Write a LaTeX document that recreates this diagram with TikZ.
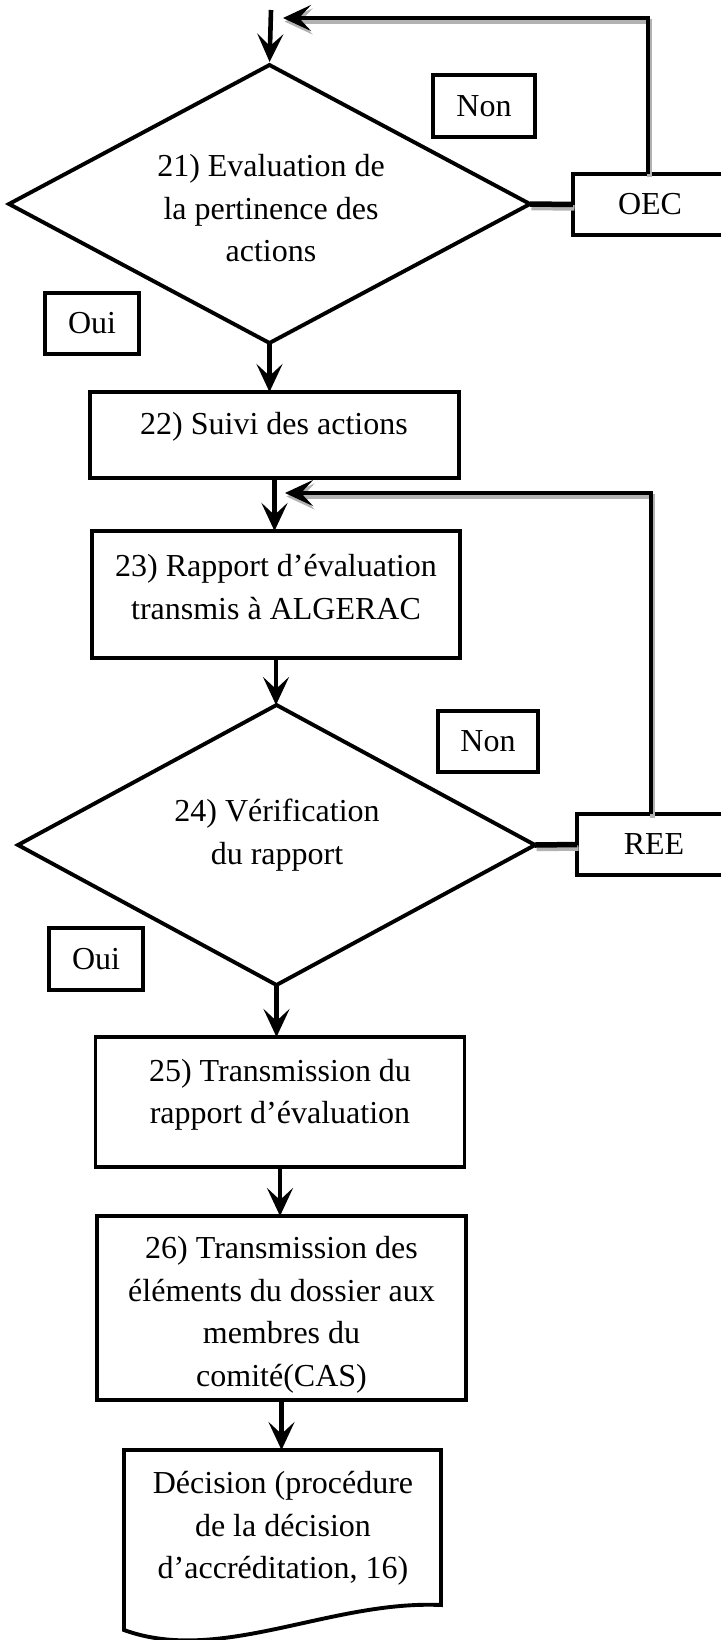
\documentclass[tikz,border=0pt]{standalone}
\usepackage{fontspec}
\setmainfont{Liberation Serif}
\usetikzlibrary{arrows.meta,shapes.geometric}
\begin{document}
\begin{tikzpicture}[x=1pt,y=-1pt,
  txt/.style={inner sep=0pt, align=center, font=\fontsize{32}{42.5}\selectfont},
  boxline/.style={draw, line width=3.9pt, inner sep=0pt, outer sep=0pt, font=\fontsize{32}{42.5}\selectfont},
  smallbox/.style={boxline, line width=3.4pt},
  dia/.style={draw, diamond, line width=3.9pt, inner sep=0pt, outer sep=0pt},
  arr/.style={line width=4.6pt, -{Stealth[length=28pt,width=26pt,inset=12pt]}},
  link/.style={line width=5.5pt},
  shad/.style={draw=gray!60, transform canvas={shift={(1.5pt,-3.5pt)}}}
]
\useasboundingbox (0,0) rectangle (720,1640);

% decision 21
\node[dia, minimum width=521pt, minimum height=278pt] (d1) at (269.5,204) {};
\node[txt] (t21) at (271,208.5) {21) Evaluation de\\la pertinence des\\actions};
\node[smallbox, minimum width=102pt, minimum height=62pt] (non1) at (484,106) {Non};
\node[smallbox, minimum width=154pt, minimum height=61pt] (oec) at (650,204.5) {OEC};
\node[smallbox, minimum width=94pt, minimum height=61pt] (oui1) at (92,323.5) {Oui};

% box 22
\node[boxline, minimum width=369pt, minimum height=86pt] (b22) at (274.5,435) {};
\node[txt] (t22) at (274,426.5) {22) Suivi des actions};

% box 23
\node[boxline, minimum width=368pt, minimum height=127pt] (b23) at (276,594.5) {};
\node[txt] (t23) at (276,587) {23) Rapport d’évaluation\\transmis à ALGERAC};

% decision 24
\node[dia, minimum width=517pt, minimum height=280pt] (d2) at (276.5,845) {};
\node[txt] (t24) at (277,835) {24) Vérification\\du rapport};
\node[smallbox, minimum width=100pt, minimum height=61pt] (non2) at (488,741.5) {Non};
\node[smallbox, minimum width=154pt, minimum height=61pt] (ree) at (654,844.5) {REE};
\node[smallbox, minimum width=94pt, minimum height=62pt] (oui2) at (96,959) {Oui};

% box 25
\node[boxline, minimum width=369pt, minimum height=130pt] (b25) at (280,1102) {};
\node[txt] (t25) at (280,1095) {25) Transmission du\\rapport d’évaluation};

% box 26
\node[boxline, minimum width=369pt, minimum height=184pt] (b26) at (281.5,1308) {};
\node[txt] (t26) at (281.5,1315) {26) Transmission des\\éléments du dossier aux\\membres du\\comité(CAS)};

% document
\draw[line width=3.9pt, line join=miter] (124,1450) -- (441,1450) -- (441,1605)
  .. controls (330,1600) and (220,1665) .. (124,1630) -- cycle;
\coordinate (docn) at (282,1450);
\node[txt] (tdoc) at (283,1528.5) {Décision (procédure\\de la décision\\d’accréditation, 16)};

% coordinates for feedback loops
\coordinate (in1) at (271,10);
\coordinate (fb1top) at (648,18);
\coordinate (fb1end) at (283,18);
\coordinate (fb2top) at (651,493);
\coordinate (fb2end) at (285,493);

% shadows
\draw[arr, shad] (oec.north -| fb1top) -- (fb1top) -- (fb1end);
\draw[arr, shad] (ree.north -| fb2top) -- (fb2top) -- (fb2end);
\draw[link, shad] (d1.east) -- (oec.west);
\draw[link, shad] (d2.east) -- (ree.west);

% connectors
\draw[arr, shorten >=3pt] (in1) -- (d1.north);
\draw[arr] (oec.north -| fb1top) -- (fb1top) -- (fb1end);
\draw[link] (d1.east) -- (oec.west);
\draw[arr] (d1.south) -- (d1.south |- b22.north);
\draw[arr] (b22.south) -- (b22.south |- b23.north);
\draw[arr] (ree.north -| fb2top) -- (fb2top) -- (fb2end);
\draw[arr] (b23.south) -- (b23.south |- d2.north);
\draw[link] (d2.east) -- (ree.west);
\draw[arr] (d2.south) -- (d2.south |- b25.north);
\draw[arr] (b25.south) -- (b25.south |- b26.north);
\draw[arr] (b26.south) -- (b26.south |- docn);
\end{tikzpicture}
\end{document}
